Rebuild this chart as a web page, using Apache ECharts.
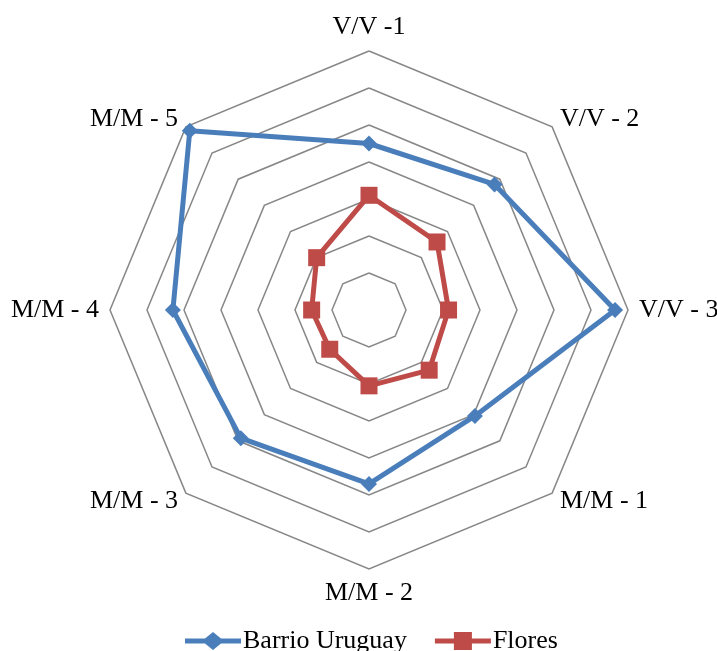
<!DOCTYPE html>
<html><head><meta charset="utf-8">
<script src="https://cdn.jsdelivr.net/npm/echarts@6/dist/echarts.min.js"></script>
<style>html,body{margin:0;padding:0;background:#fff}#c{width:717px;height:651px}</style>
</head><body><div id="c"></div>
<script>
const categories = ['V/V -1','V/V - 2','V/V - 3','M/M - 1','M/M - 2','M/M - 3','M/M - 4','M/M - 5'];
const barrioUruguay = [4.5, 4.8, 6.65, 4.05, 4.7, 4.9, 5.3, 6.85];
const flores = [3.1, 2.6, 2.15, 2.3, 2.05, 1.5, 1.55, 2.0];
const seriesNames = ['Barrio Uruguay','Flores'];
const axisMax = 7;

// ECharts places indicators counter-clockwise; reorder so they run clockwise
const order = [0,7,6,5,4,3,2,1];
const reorder = arr => order.map(i => arr[i]);

const blue = '#4A7EBB', red = '#BE4B48';
const diamondIcon = 'path://M0,6.5L20,6.5L28,0L36,6.5L56,6.5L56,11.5L36,11.5L28,18L20,11.5L0,11.5Z';
const squareIcon = 'path://M0,6.5L19,6.5L19,0L37,0L37,6.5L56,6.5L56,11.5L37,11.5L37,18L19,18L19,11.5L0,11.5Z';

const chart = echarts.init(document.getElementById('c'));
chart.setOption({
  animation:false,
  backgroundColor:'#fff',
  textStyle:{fontFamily:'Liberation Serif'},
  legend:{
    top:623, left:180, itemWidth:56, itemHeight:18, itemGap:28,
    textStyle:{fontFamily:'Liberation Serif', fontSize:26, color:'#000', padding:[0,0,0,-3]},
    data:[
      {name:seriesNames[0], icon:diamondIcon, itemStyle:{color:blue}},
      {name:seriesNames[1], icon:squareIcon, itemStyle:{color:red}}
    ]
  },
  radar:{
    center:[369,310], radius:259, startAngle:90, splitNumber:7,
    shape:'polygon',
    indicator: reorder(categories).map(n => ({name:n, min:0, max:axisMax})),
    axisName:{color:'#000', fontFamily:'Liberation Serif', fontSize:26},
    nameGap:11,
    axisLine:{show:false},
    axisTick:{show:false},
    axisLabel:{show:false},
    splitArea:{show:false},
    splitLine:{lineStyle:{color:'#878787', width:1.5}}
  },
  series:[{
    type:'radar',
    data:[
      {name:seriesNames[0], value:reorder(barrioUruguay), symbol:'diamond', symbolSize:16,
       lineStyle:{color:blue, width:5}, itemStyle:{color:blue}},
      {name:seriesNames[1], value:reorder(flores), symbol:'rect', symbolSize:17,
       lineStyle:{color:red, width:5}, itemStyle:{color:red}}
    ]
  }]
});
</script></body></html>
